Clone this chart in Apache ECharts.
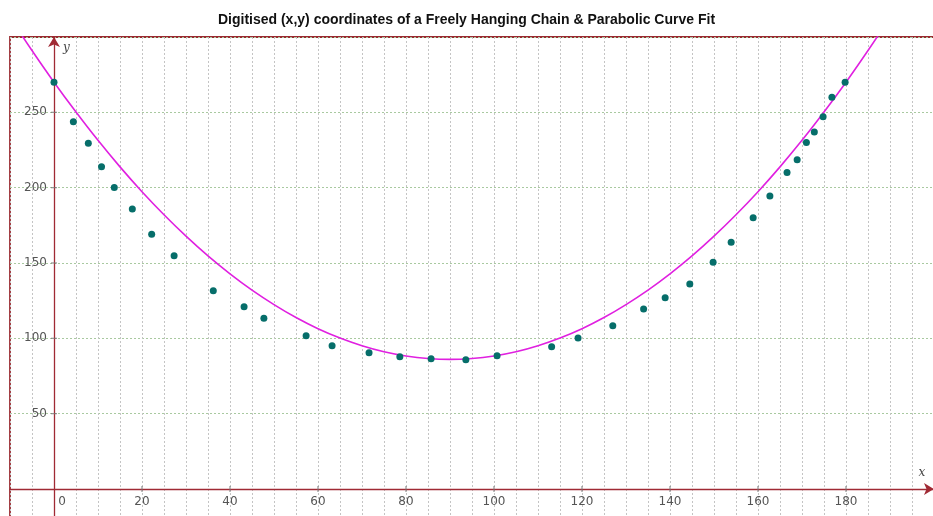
<!DOCTYPE html>
<html>
<head>
<meta charset="utf-8">
<script src="https://cdn.jsdelivr.net/npm/echarts@6/dist/echarts.min.js"></script>
<style>html,body{margin:0;padding:0;background:#fff}#c{width:933px;height:516px}</style>
</head>
<body>
<div id="c"></div>
<script>
var chainX = [0, 4.4, 7.8, 10.8, 13.7, 17.8, 22.2, 27.3, 36.2, 43.2, 47.7, 57.3, 63.2, 71.6, 78.6, 85.7, 93.6, 100.7, 113.1, 119.1, 127.0, 134.0, 138.9, 144.5, 149.8, 153.9, 158.9, 162.7, 166.6, 168.9, 171.0, 172.8, 174.8, 176.8, 179.8];
var chainY = [270, 243.8, 229.4, 213.9, 200.1, 185.9, 169.0, 154.8, 131.5, 121.0, 113.3, 101.7, 95.0, 90.4, 87.7, 86.4, 85.7, 88.4, 94.4, 100.2, 108.4, 119.5, 127.0, 136.1, 150.5, 163.7, 180.0, 194.5, 210.0, 218.6, 230.0, 237.0, 247.0, 260.0, 270.0];
// Parabolic fit curve
var curveX = [-8, -5, 0, 5, 10, 15, 20, 25, 30, 35, 40, 45, 50, 55, 60, 65, 70, 75, 80, 85, 90, 95, 100, 105, 110, 115, 120, 125, 130, 135, 140, 145, 150, 155, 160, 165, 170, 175, 180, 185, 190];
var curveY = [304.2, 291.0, 270.0, 250.2, 231.4, 213.8, 197.3, 182.0, 167.8, 154.7, 142.8, 132.0, 122.4, 113.8, 106.4, 100.2, 95.1, 91.1, 88.3, 86.6, 86.0, 86.6, 88.3, 91.1, 95.1, 100.2, 106.4, 113.8, 122.4, 132.0, 142.8, 154.7, 167.8, 182.0, 197.3, 213.8, 231.4, 250.2, 270.0, 291.0, 313.0];
// Tick labels
var xTickLabels = [0, 20, 40, 60, 80, 100, 120, 140, 160, 180];
var yTickLabels = [50, 100, 150, 200, 250];

function zip(a, b) { return a.map(function (v, i) { return [v, b[i]]; }); }

var axisRed = '#a02a34';
var chart = echarts.init(document.getElementById('c'), null, {renderer: 'canvas'});
chart.setOption({
  backgroundColor: '#fff',
  animation: false,
  title: {
    text: 'Digitised (x,y) coordinates of a Freely Hanging Chain & Parabolic Curve Fit',
    left: 'center', top: 8,
    textStyle: {fontFamily: 'Liberation Sans, Arial, sans-serif', fontSize: 14, fontWeight: 'bold', color: '#111'}
  },
  grid: {
    left: 10, top: 37, width: 924, height: 527.3,
    containLabel: false, outerBoundsMode: 'none',
    show: true, borderColor: '#9a2a30', borderWidth: 1.8, backgroundColor: 'transparent'
  },
  xAxis: {
    type: 'value', min: -10, max: 200, interval: 5,
    position: 'bottom', offset: -75.3,
    name: 'x', nameLocation: 'end', nameGap: -12,
    nameTextStyle: {fontFamily: 'DejaVu Serif, serif', fontStyle: 'italic', fontSize: 12, color: '#444',
      align: 'center', verticalAlign: 'bottom', padding: [0, 0, 10, 0]},
    axisLine: {onZero: false, lineStyle: {color: axisRed, width: 1.3}, symbol: ['none', 'arrow'], symbolSize: [9, 10]},
    axisTick: {show: false},
    axisLabel: {
      margin: 7, color: '#555', fontSize: 12, fontFamily: 'DejaVu Sans, sans-serif',
      formatter: function (v) {
        if (v === 0) return '{z|0}';
        return xTickLabels.indexOf(v) >= 0 ? String(v) : '';
      },
      rich: {z: {padding: [0, 0, 0, 16], color: '#555', fontSize: 12, fontFamily: 'DejaVu Sans, sans-serif'}}
    },
    splitLine: {show: true, lineStyle: {color: '#c4c4c4', type: [2, 2], width: 1}}
  },
  yAxis: {
    type: 'value', min: -50, max: 300, interval: 50,
    position: 'left', offset: -44,
    name: 'y', nameLocation: 'end', nameGap: -11,
    nameTextStyle: {fontFamily: 'DejaVu Serif, serif', fontStyle: 'italic', fontSize: 12, color: '#444',
      align: 'left', verticalAlign: 'middle', padding: [0, 0, 0, 9]},
    axisLine: {onZero: false, lineStyle: {color: axisRed, width: 1.3}, symbol: ['none', 'arrow'], symbolSize: [9, 10]},
    axisTick: {show: false},
    axisLabel: {
      margin: 7, color: '#555', fontSize: 12, fontFamily: 'DejaVu Sans, sans-serif',
      formatter: function (v) { return yTickLabels.indexOf(v) >= 0 ? String(v) : ''; }
    },
    splitLine: {show: true, lineStyle: {color: '#a9c9a0', type: [2, 2], width: 1}}
  },
  series: [
    {
      name: 'tickX', type: 'scatter', silent: true, z: 3,
      symbol: 'rect', symbolSize: [1.2, 6],
      itemStyle: {color: '#777'},
      data: xTickLabels.filter(function (v) { return v !== 0; }).map(function (v) { return [v, 0]; })
    },
    {
      name: 'tickY', type: 'scatter', silent: true, z: 3,
      symbol: 'rect', symbolSize: [6, 1.2],
      itemStyle: {color: '#777'},
      data: yTickLabels.map(function (v) { return [0, v]; })
    },
    {
      name: 'Parabolic fit', type: 'line', smooth: 0.4, showSymbol: false, clip: true, z: 4,
      lineStyle: {color: '#e020e0', width: 1.6},
      data: zip(curveX, curveY)
    },
    {
      name: 'Chain', type: 'scatter', symbol: 'circle', symbolSize: 7, z: 5,
      itemStyle: {color: '#066e6a', opacity: 1},
      data: zip(chainX, chainY)
    }
  ]
});
</script>
</body>
</html>
